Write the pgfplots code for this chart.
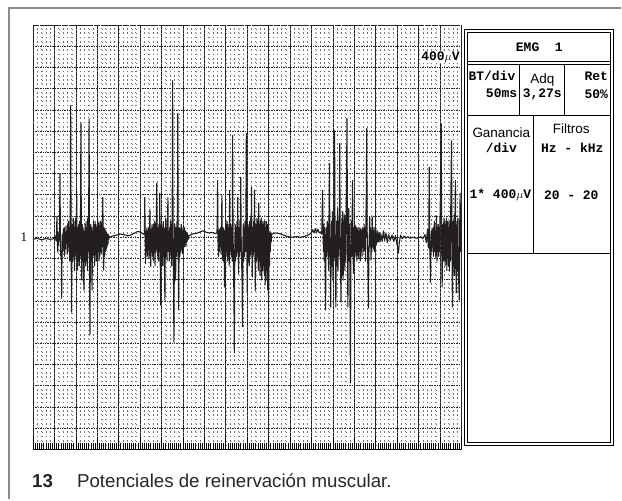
\documentclass[border=0pt]{standalone}
\usepackage{pgfplots}
\pgfplotsset{compat=1.18}
\usepackage{fontspec}
\setmainfont{Liberation Sans}
\setmonofont{Liberation Mono}
\newfontfamily\serifont{Liberation Serif}
\definecolor{trace}{HTML}{231F20}
\definecolor{framegray}{HTML}{8C8C8C}
\newcommand{\mono}{\ttfamily\bfseries\fontsize{13}{14}\selectfont}
\newcommand{\sans}{\fontsize{13.5}{14}\selectfont}
\begin{document}
\begin{tikzpicture}[x=1pt,y=-1pt]
\path[fill=white] (0,0) rectangle (622,500);
% outer frame
\draw[framegray, line width=1.6pt] (9,500) -- (9,8) -- (622,8);
% EMG trace axis
\begin{axis}[
  at={(33pt,-450pt)}, anchor=south west,
  scale only axis, width=429pt, height=425pt,
  xmin=0, xmax=1000, ymin=-4000, ymax=4000,
  xtick={0,50,...,1000}, ytick={-4000,-3600,...,4000},
  minor x tick num=4, minor y tick num=4,
  xticklabels={}, yticklabels={},
  major tick length=0pt, minor tick length=0pt,
  grid=both,
  major x grid style={black!85, line width=0.55pt},
  major y grid style={black!85, line width=0.6pt, dash pattern=on 0.8pt off 0.9pt},
  minor x grid style={black!55, line width=0.6pt, dash pattern=on 1pt off 3.25pt},
  minor y grid style={black!55, line width=0.6pt, dash pattern=on 1pt off 3.29pt},
  axis line style={black!85, line width=0.6pt, dash pattern=on 3pt off 0.6pt},
  clip=true,
]
\addplot[trace, line width=1.1pt, line join=round] coordinates {
(0,-40) (10,-20) (20,-50) (30,-25) (40,-40) (48,-30)
(50,0) (52,20) (54,-70) (55,90) (56,395) (57,-90) (58,-280) (59,60) (60,-135) (61,120) (62,-45) (63,1200) (64,120) (65,-360) (66,-270) (67,-1150) (68,-180) (69,60) (70,-270) (71,150) (72,-180) (73,180) (74,-360) (75,90) (76,-225) (77,210) (78,-90) (79,120) (80,-315) (81,240) (82,-270) (83,300) (84,-180) (85,180) (86,-450) (87,360) (88,2480) (89,60) (90,-1410) (91,-270) (92,240) (93,-450) (94,360) (95,-360) (96,300) (97,-630) (98,180) (99,-360) (100,360) (101,-270) (102,885) (103,-180) (104,-620) (105,180) (106,-450) (107,240) (108,-540) (109,300) (110,-360) (111,420) (112,2160) (113,-180) (114,-810) (115,240) (116,-450) (117,180) (118,-630) (119,-1000) (120,120) (121,-450) (122,240) (123,-540) (124,300) (125,-360) (126,180) (127,-630) (128,360) (129,-270) (130,300) (131,2220) (132,-270) (133,-1840) (134,-180) (135,240) (136,-450) (137,180) (138,-1000) (139,120) (140,-360) (141,300) (142,-270) (143,240) (144,-540) (145,300) (146,-270) (147,240) (148,-450) (149,180) (150,-360) (151,360) (152,-270) (153,270) (154,-450) (155,210) (156,-360) (157,300) (158,-270) (159,240) (160,-315) (161,300) (162,-180) (163,750) (164,-90) (165,-620) (166,180) (167,-360) (168,150) (169,-270) (170,120) (171,-225) (172,90) (173,-180) (174,60) (175,-135) (176,50) (177,-45) (178,20) (180,0)
(185,20) (195,40) (205,60) (215,40) (225,30) (235,70) (245,110) (252,90) (258,60)
(260,50) (261,750) (262,-90) (263,-500) (264,120) (265,-270) (266,180) (267,-360) (268,120) (269,-180) (270,180) (271,-405) (272,120) (273,530) (274,-180) (275,-550) (276,150) (277,-270) (278,240) (279,-360) (280,180) (281,-450) (282,240) (283,-270) (284,300) (285,-540) (286,240) (287,-270) (288,360) (289,1015) (290,-90) (291,-360) (292,180) (293,-450) (294,240) (295,-270) (296,830) (297,-360) (298,-1280) (299,-180) (300,240) (301,-450) (302,180) (303,-540) (304,300) (305,-360) (306,180) (307,-630) (308,-1185) (309,0) (310,360) (311,-360) (312,180) (313,-450) (314,240) (315,750) (316,-270) (317,120) (318,-450) (319,180) (320,-360) (321,300) (322,-270) (323,240) (324,-540) (325,360) (326,2950) (327,0) (328,-720) (329,-1975) (330,-270) (331,240) (332,-450) (333,-810) (334,180) (335,-360) (336,300) (337,-270) (338,2330) (339,-180) (340,-1370) (341,-180) (342,180) (343,-360) (344,150) (345,-270) (346,240) (347,-225) (348,180) (349,-315) (350,120) (351,-270) (352,150) (353,-180) (354,180) (355,-135) (356,120) (357,-180) (358,90) (359,-90) (360,70) (362,-45) (364,40) (366,30)
(372,60) (380,70) (388,90) (396,120) (402,100) (410,80) (418,90) (426,70)
(429,80) (430,180) (431,1070) (432,-90) (433,-360) (434,120) (435,-270) (436,150) (437,-180) (438,180) (439,-315) (440,120) (441,790) (442,-90) (443,-430) (444,180) (445,-450) (446,120) (447,-940) (448,-180) (449,180) (450,-360) (451,240) (452,-270) (453,300) (454,-450) (455,240) (456,-360) (457,180) (458,-540) (459,885) (460,-90) (461,-270) (462,240) (463,-360) (464,180) (465,-450) (466,1920) (467,120) (468,-540) (469,-1080) (470,-2180) (471,-270) (472,240) (473,-450) (474,180) (475,-360) (476,300) (477,-270) (478,750) (479,-180) (480,-680) (481,180) (482,-360) (483,300) (484,-270) (485,1130) (486,0) (487,-450) (488,-810) (489,-1690) (490,-180) (491,240) (492,-450) (493,180) (494,-360) (495,300) (496,-270) (497,360) (498,1955) (499,120) (500,-1050) (501,-270) (502,240) (503,-450) (504,180) (505,-540) (506,300) (507,-360) (508,360) (509,-270) (510,940) (511,-180) (512,-750) (513,180) (514,-360) (515,300) (516,-270) (517,885) (518,-180) (519,-1000) (520,-270) (521,240) (522,-450) (523,360) (524,-360) (525,300) (526,-630) (527,640) (528,-450) (529,240) (530,-720) (531,300) (532,-540) (533,360) (534,-810) (535,240) (536,-630) (537,300) (538,-540) (539,240) (540,-720) (541,300) (542,-900) (543,180) (544,-630) (545,300) (546,-810) (547,240) (548,-990) (549,120) (550,-1280) (551,60) (552,-540) (553,120) (554,-270) (555,90) (556,-90) (557,60) (559,60)
(565,80) (575,70) (585,40) (595,10) (605,0) (615,10) (625,0) (635,20) (645,50) (650,90) (653,140) (656,80) (659,160) (662,90) (665,150) (668,80) (671,100) (674,60)
(676,885) (677,120) (678,-270) (679,240) (680,-450) (681,180) (682,-630) (683,-1370) (684,-180) (685,180) (686,-360) (687,300) (688,-270) (689,240) (690,-630) (691,360) (692,1390) (693,-90) (694,-540) (695,-1315) (696,-180) (697,300) (698,-540) (699,480) (700,-810) (701,360) (702,-450) (703,420) (704,2010) (705,60) (706,-630) (707,-1315) (708,-270) (709,300) (710,-540) (711,540) (712,-630) (713,300) (714,-360) (715,420) (716,1770) (717,60) (718,-540) (719,-1220) (720,-180) (721,360) (722,-720) (723,480) (724,-810) (725,300) (726,-540) (727,420) (728,-630) (729,360) (730,-450) (731,540) (732,1200) (733,2240) (734,0) (735,-1315) (736,-180) (737,540) (738,-450) (739,240) (740,-1200) (741,-2745) (742,-450) (743,300) (744,-360) (745,360) (746,1070) (747,-180) (748,-680) (749,180) (750,-360) (751,240) (752,-270) (753,210) (754,-360) (755,180) (756,-450) (757,150) (758,-315) (759,180) (760,-405) (761,120) (762,-270) (763,180) (764,-450) (765,150) (766,-270) (767,120) (768,-360) (769,180) (770,-180) (771,150) (772,-270) (773,240) (774,-180) (775,180) (776,-450) (777,300) (778,800) (779,2050) (780,120) (781,-270) (782,-720) (783,-1335) (784,-360) (785,60)
(786,375) (787,-180) (788,180) (789,-430) (790,120) (791,-270) (792,375) (793,-180) (794,180) (795,-225) (796,120) (797,-270) (798,180) (799,-180) (800,150) (802,-135) (804,120) (806,-90) (808,90) (810,-90) (812,60) (815,-80) (818,120) (821,-60) (824,80) (827,-100) (830,50) (834,-60) (838,40) (842,-80) (846,30) (850,-150) (853,-300) (855,-100) (858,40) (862,-30) (866,20) (870,-20) (875,10) (880,-20) (885,0) (890,-10) (895,-20) (900,-10) (905,10) (910,-30) (915,50) (918,-100) (921,150) (923,-200)
(924,180) (925,1320) (926,-180) (927,-450) (928,-850) (929,-90) (930,120) (931,-270) (932,150) (933,-180) (934,180) (935,-360) (936,120) (937,300) (938,-270) (939,120) (940,-360) (941,180) (942,400) (943,-450) (944,180) (945,-270) (946,240) (947,-360) (948,180) (949,-270) (950,300) (951,800) (952,1500) (953,2140) (954,-180) (955,-940) (956,-270) (957,240) (958,-450) (959,360) (960,-430) (961,300) (962,-540) (963,240) (964,-450) (965,360) (966,-630) (967,300) (968,-360) (969,180) (970,-540) (971,300) (972,-630) (973,240) (974,-450) (975,420) (976,1200) (977,1820) (978,-270) (979,-1315) (980,-360) (981,300) (982,-540) (983,420) (984,-720) (985,360) (986,1070) (987,-180) (988,-1050) (989,-270) (990,300) (991,-630) (992,360) (993,-720) (994,-900) (995,-1185) (996,180) (997,830) (998,-270) (999,120) (1000,-200)
};
\end{axis}
% ruler ticks along the bottom
\begin{axis}[
  at={(33pt,-450pt)}, anchor=south west,
  scale only axis, width=429pt, height=425pt,
  xmin=0, xmax=1000, ymin=-4000, ymax=4000,
  axis x line*=bottom, axis y line=none,
  xtick={0,50,...,1000}, minor x tick num=9,
  xticklabels={},
  tick align=inside,
  major tick length=12pt, minor tick length=6pt,
  tick style={black, line width=0.6pt},
  axis line style={black, line width=0.8pt},
]
\addplot[draw=none] coordinates {(0,0)};
\end{axis}
% labels on the trace area
\node[font=\serifont\fontsize{13}{13}\selectfont, anchor=center] at (24,238) {1};
\node[anchor=center, inner sep=0.5pt, fill=white] at (441,57) {\mono 400$\mu$V};
% right panel
\begin{scope}[line width=0.8pt, black]
\draw (465,29) rectangle (614,446);
\draw (468,32) rectangle (611,443);
\draw (468,61) -- (611,61);
\draw (468,64) -- (611,64);
\draw (468,116) -- (611,116);
\draw (520,64) -- (520,116);
\draw (565,64) -- (565,116);
\draw (468,254) -- (611,254);
\draw (534,116) -- (534,254);
\end{scope}
\begin{scope}[every node/.style={inner sep=0pt}]
\node[anchor=center] at (540,47) {\mono EMG\ \ 1};
\node[anchor=west] at (469,76) {\mono BT/div};
\node[anchor=east] at (518,93) {\mono 50ms};
\node[anchor=center] at (543,80) {\sans Adq};
\node[anchor=center] at (543,94) {\mono 3,27s};
\node[anchor=east] at (609,76) {\mono Ret};
\node[anchor=east] at (609,94) {\mono 50\%};
\node[anchor=center] at (502,133) {\sans Ganancia};
\node[anchor=center] at (502,148) {\mono /div};
\node[anchor=center] at (572,129) {\sans Filtros};
\node[anchor=center] at (573,148) {\mono Hz - kHz};
\node[anchor=west] at (470,195) {\mono 1* 400$\mu$V};
\node[anchor=center] at (572,195) {\mono 20 - 20};
\end{scope}
% caption
\node[anchor=base west, inner sep=0pt, text=black!85] at (32,488) {\fontsize{18.7}{20}\selectfont\bfseries 13};
\node[anchor=base west, inner sep=0pt, text=black!85] at (77,488) {\fontsize{18.7}{20}\selectfont Potenciales de reinervación muscular.};
\end{tikzpicture}
\end{document}
